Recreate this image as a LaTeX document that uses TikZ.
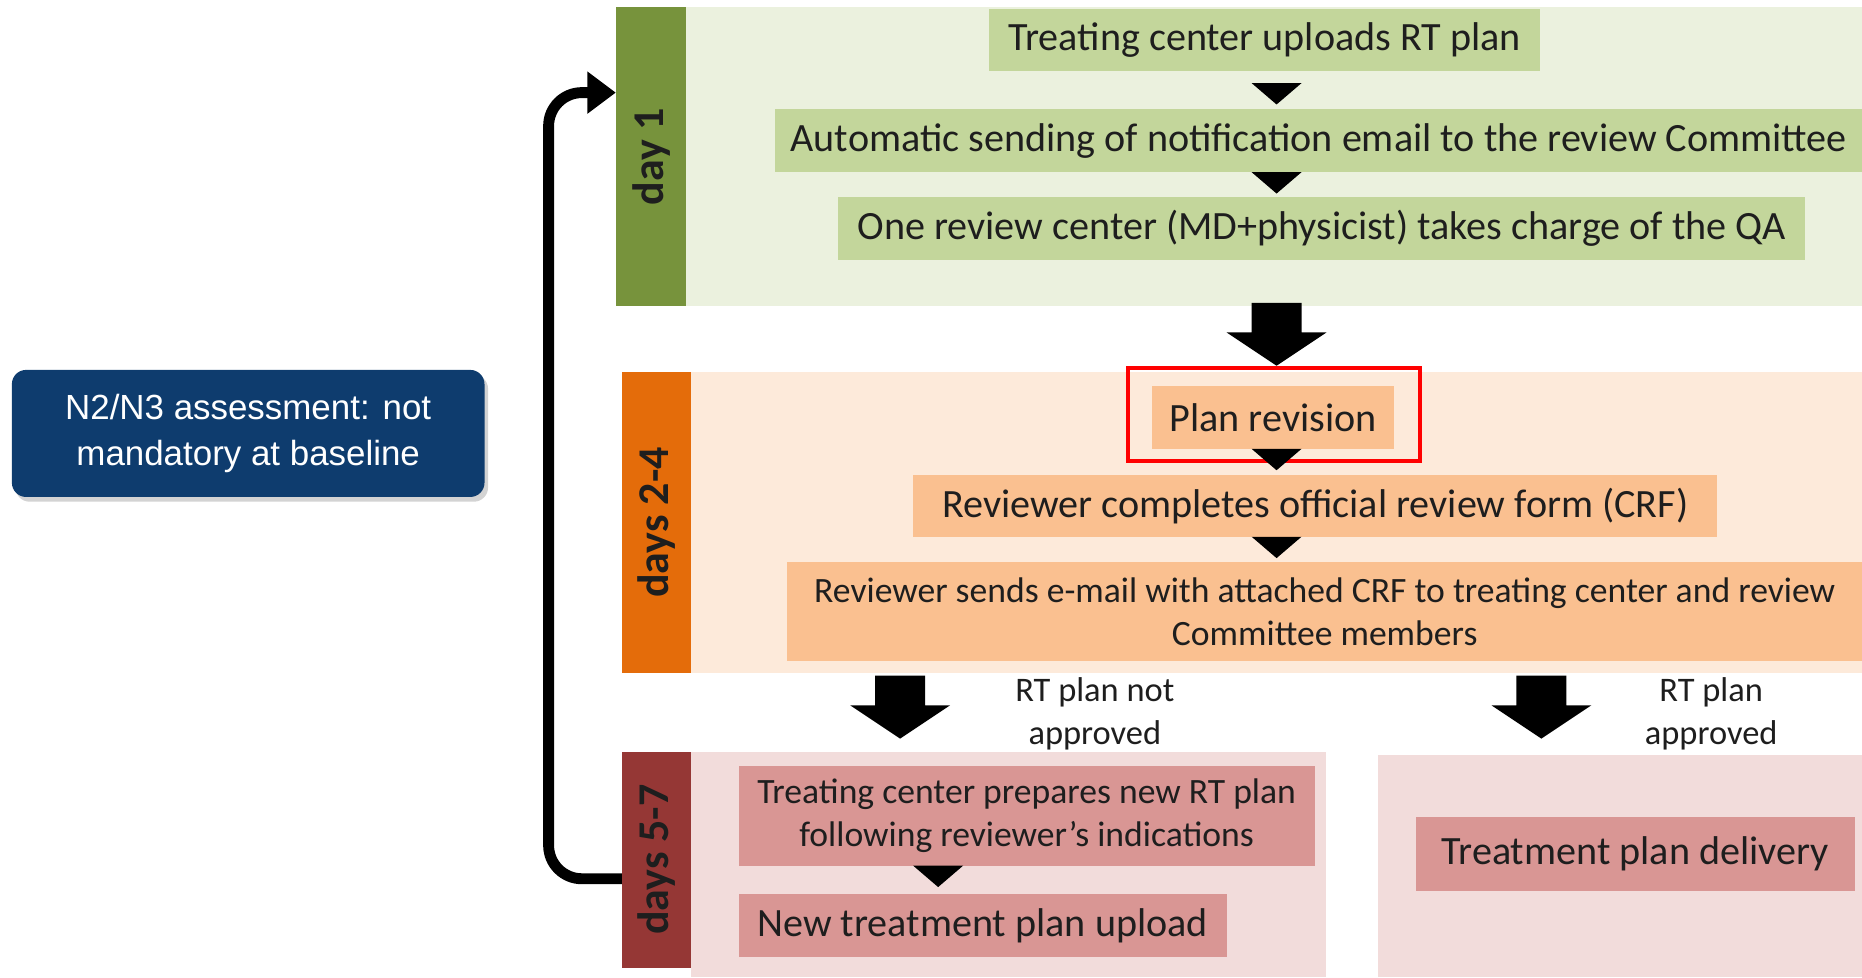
\documentclass[tikz,border=0pt]{standalone}
\usepackage{fontspec}
\setmainfont{Carlito}
\newfontfamily\arialf{Liberation Sans}
\usetikzlibrary{arrows.meta,shadows}

\definecolor{gbar}{HTML}{77933C}
\definecolor{gbg}{HTML}{EBF1DE}
\definecolor{gbox}{HTML}{C3D69B}
\definecolor{obar}{HTML}{E46C0A}
\definecolor{obg}{HTML}{FDEADA}
\definecolor{obox}{HTML}{FAC090}
\definecolor{rbar}{HTML}{953735}
\definecolor{rbg}{HTML}{F2DCDB}
\definecolor{rbox}{HTML}{D99694}
\definecolor{navy}{HTML}{0E3C6E}
\definecolor{ink}{HTML}{1E1E1E}

\begin{document}
\begin{tikzpicture}[x=0.5pt,y=-0.5pt,
  sz/.style 2 args={minimum width=#1*0.5pt,minimum height=#2*0.5pt},
  stepbox/.style={rectangle,inner sep=0pt,text=ink,align=center,
    font=\fontsize{16.9}{20}\selectfont},
  smallbox/.style={stepbox,font=\fontsize{15}{18}\selectfont},
  daybar/.style={rectangle,inner sep=0pt,text=ink,
    font=\bfseries\fontsize{18.5}{20}\selectfont},
  note/.style={inner sep=0pt,text=ink,align=center,
    font=\fontsize{14.5}{18}\selectfont},
  tri/.pic={\fill[black] (-21,-9) -- (21,-9) -- (0,9) -- cycle;},
  blockarrow/.pic={\fill[black] (0,0) -- (-42,-28) -- (-21,-28) -- (-21,-53)
     -- (21,-53) -- (21,-28) -- (42,-28) -- cycle;},
  looparrow/.style={line width=4.6pt,black,rounded corners=14pt,
    -{Triangle[length=12pt,width=17pt]}}
]
\useasboundingbox (0,0) rectangle (1568,823);

% panel backgrounds
\fill[gbg] (578,6) rectangle (1568,258);
\fill[obg] (582,313) rectangle (1568,567);
\fill[rbg] (582,633) rectangle (1117,823);
\fill[rbg] (1160,636) rectangle (1568,823);

% day bars
\node[daybar,fill=gbar,sz={59}{252}] (d1) at (548.5,132) {\rotatebox{90}{day 1}};
\node[daybar,fill=obar,sz={58}{254}] (d24) at (553,440) {\rotatebox{90}{days 2-4}};
\node[daybar,fill=rbar,sz={58}{182}] (d57) at (553,724) {\rotatebox{90}{days 5-7}};

% side note
\node[rectangle,rounded corners=6pt,fill=navy,sz={398}{107},text=white,align=center,
  font=\arialf\fontsize{14.7}{19}\selectfont,
  drop shadow={opacity=0.35,shadow xshift=1.5pt,shadow yshift=-2pt}]
  (note) at (209,365) {N2/N3 assessment: not\\mandatory at baseline};

% day 1 steps
\node[stepbox,fill=gbox,sz={464}{52}] (s1) at (1065,34) {Treating center uploads RT plan};
\node[stepbox,fill=gbox,sz={915}{53}] (s2) at (1110.5,118.5) {Automatic sending of notification email to the review Committee};
\node[stepbox,fill=gbox,sz={814}{53}] (s3) at (1113,192.5) {One review center (MD+physicist) takes charge of the QA};
\pic at (1075,79) {tri};
\pic at (1075,154) {tri};

% day 1 -> days 2-4
\pic at (1075,308) {blockarrow};

% days 2-4 steps
\node[stepbox,fill=obox,sz={204}{53}] (s4) at (1072,351.5) {Plan revision};
\node[draw=red,line width=1.5pt,sz={246}{78},inner sep=0pt] (frame) at (1073,349) {};
\node[stepbox,fill=obox,sz={677}{52}] (s5) at (1107.5,426) {Reviewer completes official review form (CRF)};
\node[smallbox,fill=obox,sz={905}{84}] (s6) at (1115.5,515) {Reviewer sends e-mail with attached CRF to treating center and review\\Committee members};
\pic at (1075,387) {tri};
\pic at (1075,461) {tri};

% outcomes
\pic at (758,622) {blockarrow};
\pic at (1298,622) {blockarrow};
\node[note] (lno) at (922,601) {RT plan not\\approved};
\node[note] (lyes) at (1441,601) {RT plan\\approved};

% days 5-7 steps
\node[smallbox,fill=rbox,sz={485}{84}] (s7) at (864.5,687) {Treating center prepares new RT plan\\following reviewer’s indications};
\node[stepbox,fill=rbox,sz={411}{53}] (s8) at (827.5,779.5) {New treatment plan upload};
\node[stepbox,fill=rbox,sz={370}{62}] (s9) at (1377,719) {Treatment plan delivery};
\pic at (790,738) {tri};

% resubmission loop back to day 1
\coordinate (lb) at (0,740);
\coordinate (lt) at (0,78);
\draw[looparrow] (d57.west |- lb) -- (462,740) -- (462,78) -- (d1.west |- lt);
\end{tikzpicture}
\end{document}
